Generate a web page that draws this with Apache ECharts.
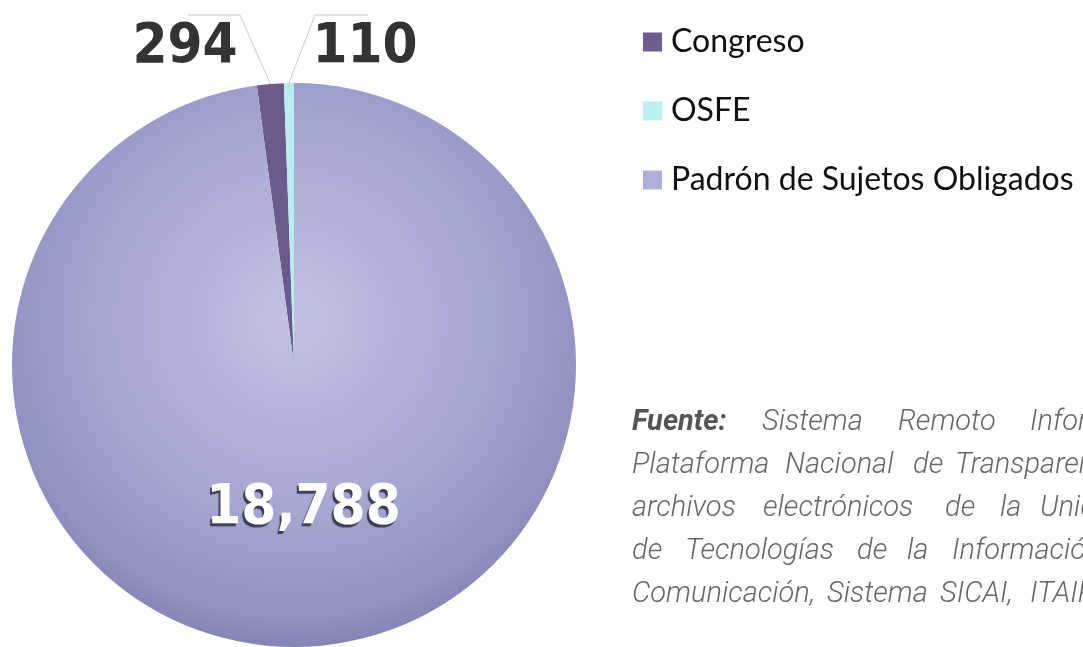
<!DOCTYPE html>
<html>
<head>
<meta charset="utf-8">
<title>Sujetos obligados</title>
<script src="https://cdn.jsdelivr.net/npm/echarts@6/dist/echarts.min.js"></script>
<style>
  html, body { margin: 0; padding: 0; background: #fff; }
  #main { width: 1083px; height: 647px; }
</style>
</head>
<body>
<div id="main"></div>
<script>
// datos del grafico
var categories = ['Congreso', 'OSFE', 'Padrón de Sujetos Obligados'];
var values = [294, 110, 18788];

// texto de la fuente (justificado en el original, se corta en el borde)
var sourceLines = [
  ['Fuente:', 'Sistema', 'Remoto', 'Información'],
  ['Plataforma', 'Nacional', 'de', 'Transparencia'],
  ['archivos', 'electrónicos', 'de', 'la', 'Unidad'],
  ['de', 'Tecnologías', 'de', 'la', 'Información'],
  ['Comunicación,', 'Sistema', 'SICAI,', 'ITAIP.']
];
var wordLeft = [
  [632, 762, 898, 1030],
  [632, 785, 913, 955],
  [632, 763, 945, 1000, 1040],
  [632, 685, 857, 907, 952],
  [632, 827, 940, 1030]
];

window.onload = function () {
  var chart = echarts.init(document.getElementById('main'));

  var total = values.reduce(function (a, b) { return a + b; }, 0);
  // el sector grande empieza justo a las 12
  var startAngle = 90 + (values[0] + values[1]) / total * 360;

  var sliceColors = [
    '#6b5b8d',
    '#b8ecef',
    {
      type: 'radial', x: 0.5, y: 0.42, r: 0.62,
      colorStops: [
        { offset: 0, color: '#c2c2e3' },
        { offset: 0.55, color: '#a6a6d2' },
        { offset: 0.85, color: '#9191c2' },
        { offset: 1, color: '#7d7bad' }
      ]
    }
  ];
  var legendColors = ['#6e5c8e', '#bdeef0', '#aeb0d8'];

  // donde van las etiquetas pequenas
  var labelSpots = {
    0: { x: 185, y: 47, elbow: [240, 15], end: [188, 15] },
    1: { x: 365, y: 47, elbow: [315, 15], end: [368, 15] }
  };

  var pieData = categories.map(function (name, i) {
    var item = { name: name, value: values[i], itemStyle: { color: sliceColors[i] } };
    if (i === 2) {
      item.label = {
        position: 'inside',
        color: '#fff',
        textShadowColor: 'rgba(55,55,75,0.95)',
        textShadowOffsetX: -2,
        textShadowOffsetY: 3,
        textShadowBlur: 1
      };
      item.labelLine = { show: false };
    }
    return item;
  });

  var graphics = [];
  sourceLines.forEach(function (words, li) {
    var baseline = 435 + li * 43;
    words.forEach(function (w, wi) {
      var bold = (li === 0 && wi === 0);
      graphics.push({
        type: 'text',
        left: wordLeft[li][wi],
        top: baseline - 27,
        style: {
          text: w,
          fill: bold ? '#555' : '#666',
          font: (bold ? 'italic bold ' : 'italic 300 ') + '29px Roboto'
        }
      });
    });
  });

  var option = {
    backgroundColor: '#fff',
    animation: false,
    legend: {
      orient: 'vertical',
      left: 643,
      top: 25,
      padding: 0,
      itemWidth: 19,
      itemHeight: 19,
      itemGap: 35,
      icon: 'rect',
      selectedMode: false,
      textStyle: {
        fontFamily: 'Lato', fontSize: 32, color: '#111', lineHeight: 34,
        padding: [0, 0, 0, 4]
      },
      data: categories.map(function (name, i) {
        return { name: name, itemStyle: { color: legendColors[i] } };
      })
    },
    graphic: graphics,
    series: [
      {
        type: 'pie',
        center: [294, 365],
        radius: 282,
        startAngle: startAngle,
        clockwise: true,
        avoidLabelOverlap: false,
        label: {
          show: true,
          position: 'outside',
          fontFamily: "'DejaVu Sans Condensed', 'DejaVu Sans', sans-serif",
          fontWeight: 'bold',
          fontSize: 56,
          color: '#333',
          formatter: function (p) { return p.value.toLocaleString('en-US'); }
        },
        labelLine: {
          show: true,
          lineStyle: { color: '#c8c8c8', width: 1 }
        },
        labelLayout: function (params) {
          var spot = labelSpots[params.dataIndex];
          if (!spot || !params.labelLinePoints) return {};
          var p0 = params.labelLinePoints[0];
          return {
            x: spot.x,
            y: spot.y,
            align: 'center',
            verticalAlign: 'middle',
            labelLinePoints: [p0, spot.elbow, spot.end]
          };
        },
        emphasis: { disabled: true },
        data: pieData
      }
    ]
  };
  chart.setOption(option);
};
</script>
</body>
</html>
